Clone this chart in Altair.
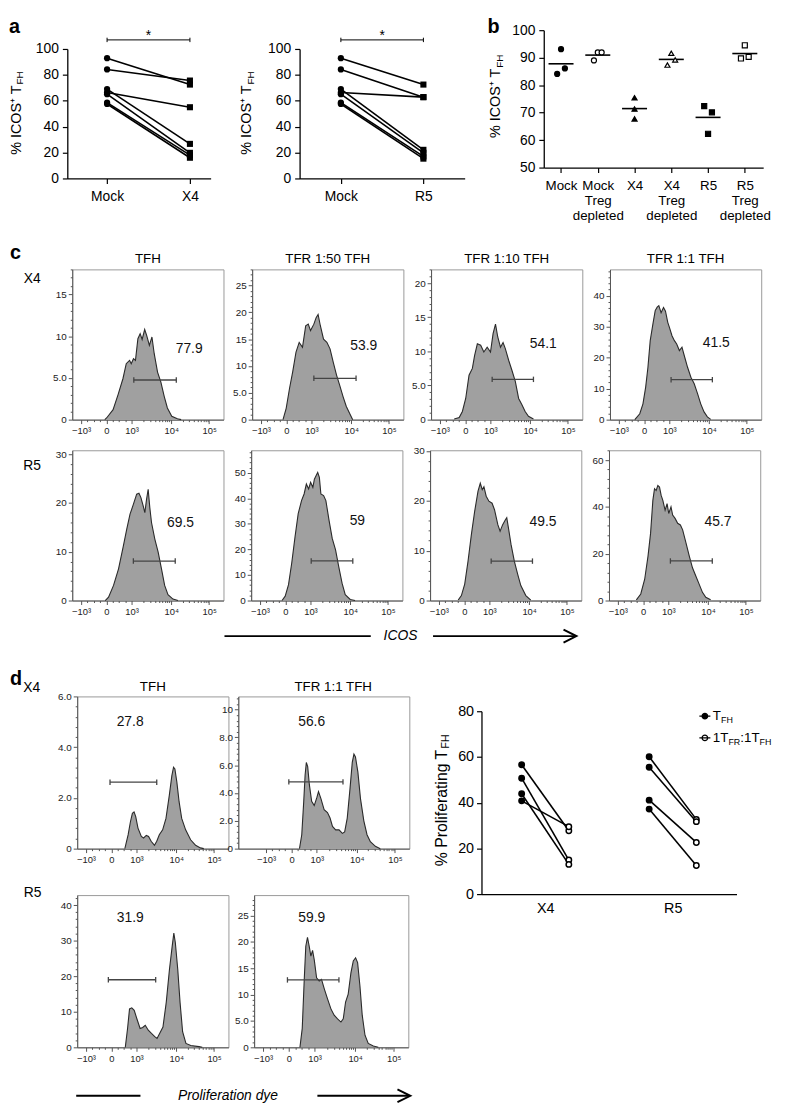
import altair as alt
import numpy as np
import pandas as pd

FONT = "Liberation Sans"
ONE = pd.DataFrame({"k": [0]})

# ================= panel a =================
A_LEFT_CATS = ["Mock", "X4"]
A_LEFT_MOCK = [92.9, 84.2, 66.4, 69.0, 65.1, 58.5, 57.5]
A_LEFT_X4 = [72.5, 75.6, 55.0, 26.7, 19.8, 18.0, 16.0]
A_RIGHT_CATS = ["Mock", "R5"]
A_RIGHT_MOCK = [92.9, 84.2, 66.4, 69.0, 65.1, 58.5, 57.5]
A_RIGHT_R5 = [72.5, 62.8, 62.8, 22.1, 19.8, 17.0, 15.3]
A_SIG_TEXT = "*"
A_SIG_LEVEL = 107

# ================= panel b =================
B_GROUPS = ["Mock", "Mock Treg depleted", "X4", "X4 Treg depleted", "R5", "R5 Treg depleted"]
B_REP1 = [84.1, 89.0, 75.4, 87.3, 72.4, 89.7]
B_REP2 = [93.1, 91.9, 71.3, 91.6, 62.3, 94.5]
B_REP3 = [86.1, 91.9, 67.7, 89.2, 70.1, 90.3]
B_SHAPES = ["circle", "circle", "triangle-up", "triangle-up", "square", "square"]
B_FILLS = ["black", "white", "black", "white", "black", "white"]

# ================= histograms (x in display units of the biexponential axis) =================
HIST_X_TICKS = [5.8, 22.6, 39.2, 65.5, 90.5]
HIST_X_LABELS = ["−10³", "0", "10³", "10⁴", "10⁵"]

C_COLUMNS = ["TFH", "TFR 1:50 TFH", "TFR 1:10 TFH", "TFR 1:1 TFH"]

C_X4_TFH_U = [21.5, 22.7, 27.0, 30.3, 33.5, 35.7, 37.9, 39.0, 40.5, 41.8, 43.4, 44.9, 46.2, 47.9, 49.2, 51.0, 52.7, 54.2, 56.4, 58.6, 60.8, 62.9, 65.8, 69.5, 72.0]
C_X4_TFH_Y = [0, 0.2, 1.2, 3.0, 4.9, 6.7, 7.1, 6.7, 7.3, 7.1, 9.7, 10.3, 9.6, 10.8, 10.1, 8.9, 9.9, 7.9, 5.7, 4.5, 2.8, 1.4, 0.4, 0.1, 0]
C_X4_TFH_GATE = [40.7, 68.8, 4.75]
C_X4_TFH_PCT = ["77.9", 77.3, 8.5]

C_X4_T50_U = [20.4, 22.5, 24.7, 26.8, 29.0, 31.1, 33.3, 35.4, 37.1, 38.6, 40.8, 42.3, 43.6, 45.1, 47.2, 49.4, 51.5, 53.6, 55.8, 57.9, 60.1, 62.2, 64.4, 66.5]
C_X4_T50_Y = [0, 2.1, 5.8, 8.9, 12.6, 14.4, 13.5, 17.5, 17.8, 16.6, 17.8, 19.0, 19.6, 17.5, 15.0, 14.4, 13.2, 10.7, 8.3, 6.4, 4.3, 2.5, 1.2, 0]
C_X4_T50_GATE = [40.8, 68.7, 7.7]
C_X4_T50_PCT = ["53.9", 73.8, 13.8]

C_X4_T10_U = [15.3, 18.6, 20.7, 22.9, 25.1, 27.3, 28.8, 30.6, 32.8, 34.9, 37.1, 39.3, 41.0, 42.6, 44.1, 45.9, 47.6, 49.1, 51.3, 53.5, 55.7, 57.9, 60.0, 62.2, 64.4, 67.7]
C_X4_T10_Y = [0.1, 0.3, 1.2, 3.1, 6.5, 7.5, 9.4, 11.1, 10.9, 9.9, 10.6, 9.9, 12.6, 14.0, 12.1, 10.6, 11.3, 10.4, 8.7, 7.2, 5.6, 3.1, 2.2, 1.2, 0.5, 0.1]
C_X4_T10_GATE = [40.4, 67.7, 5.9]
C_X4_T10_PCT = ["54.1", 74.2, 11.0]

C_X4_T1_U = [16.4, 19.7, 21.8, 23.6, 25.1, 26.6, 28.4, 29.9, 31.2, 32.3, 33.8, 35.4, 36.7, 38.2, 39.3, 41.0, 42.6, 44.1, 45.9, 47.6, 49.1, 51.3, 53.5, 55.7, 57.9, 60.0, 62.2, 64.4, 66.6]
C_X4_T1_Y = [0, 1.9, 5.1, 10.5, 16.9, 25.5, 30.9, 35.2, 36.3, 36.8, 34.5, 36.2, 35.0, 31.4, 29.8, 27.1, 25.5, 24.4, 22.3, 23.4, 20.7, 16.9, 13.7, 11.6, 8.4, 5.1, 2.5, 0.9, 0.1]
C_X4_T1_GATE = [40.4, 67.7, 12.9]
C_X4_T1_PCT = ["41.5", 70.3, 24.8]

C_R5_TFH_U = [21.8, 24.0, 27.3, 30.6, 33.8, 36.0, 38.2, 40.4, 42.6, 44.1, 45.4, 46.9, 48.0, 49.1, 50.2, 51.3, 52.4, 54.6, 56.8, 59.0, 61.1, 63.3, 66.6, 69.9]
C_R5_TFH_Y = [0, 0.7, 3.1, 6.5, 11.2, 14.6, 17.7, 19.7, 21.8, 22.0, 21.1, 19.4, 18.0, 20.7, 22.8, 19.0, 16.0, 12.6, 9.9, 6.5, 3.1, 1.2, 0.3, 0]
C_R5_TFH_GATE = [40.4, 68.1, 8.1]
C_R5_TFH_PCT = ["69.5", 71.6, 15.8]

C_R5_T50_U = [20.4, 22.5, 24.7, 26.8, 29.0, 31.1, 33.3, 35.0, 36.5, 38.0, 39.3, 40.8, 41.8, 42.9, 44.0, 45.1, 46.1, 47.9, 49.4, 51.5, 53.6, 55.8, 57.9, 60.1, 62.2, 65.5, 68.7]
C_R5_T50_Y = [0, 1.7, 6.2, 14.6, 24.9, 34.0, 39.1, 41.7, 45.6, 43.7, 46.3, 44.3, 47.5, 48.8, 50.1, 48.2, 41.7, 41.1, 39.1, 31.4, 24.3, 19.8, 13.3, 6.8, 2.3, 0.4, 0]
C_R5_T50_GATE = [39.7, 67.2, 15.5]
C_R5_T50_PCT = ["59", 70.2, 31.0]

C_R5_T10_U = [18.6, 20.7, 22.9, 25.1, 27.3, 29.5, 31.7, 33.2, 34.5, 35.6, 37.1, 38.9, 41.0, 42.6, 44.8, 46.3, 48.0, 49.8, 50.7, 52.0, 53.5, 55.7, 57.9, 60.0, 63.3, 66.6]
C_R5_T10_Y = [0.1, 1.0, 3.3, 7.9, 13.2, 17.9, 21.9, 23.5, 22.2, 22.8, 20.9, 19.9, 19.5, 18.2, 15.2, 13.9, 15.2, 16.2, 16.6, 14.2, 11.3, 7.9, 5.3, 3.0, 1.0, 0.1]
C_R5_T10_GATE = [40.4, 67.7, 7.9]
C_R5_T10_PCT = ["49.5", 74.7, 15.8]

C_R5_T1_U = [18.1, 21.0, 23.6, 25.8, 27.5, 29.0, 30.1, 31.2, 32.3, 33.4, 34.5, 35.6, 37.1, 38.4, 39.5, 41.0, 42.1, 43.7, 45.4, 47.2, 48.7, 50.9, 53.1, 55.2, 57.4, 59.6, 61.8, 64.0, 67.2]
C_R5_T1_Y = [0.3, 2.8, 9.1, 19.0, 28.8, 42.8, 47.8, 47.0, 49.2, 48.5, 44.9, 42.8, 38.6, 41.4, 37.2, 40.0, 36.5, 35.1, 33.0, 32.3, 30.2, 24.6, 19.0, 14.0, 10.5, 7.0, 3.5, 1.4, 0.3]
C_R5_T1_GATE = [40.6, 68.3, 16.9]
C_R5_T1_PCT = ["45.7", 72.1, 33.4]

# ================= panel d histograms =================
D_COLUMNS = ["TFH", "TFR 1:1 TFH"]

D_X4_TFH_U = [31.5, 33.7, 35.2, 36.5, 37.6, 38.7, 40.2, 42.4, 43.9, 45.7, 47.2, 48.9, 51.1, 52.6, 54.3, 56.5, 58.7, 60.9, 62.6, 63.7, 64.6, 65.9, 67.4, 69.1, 71.7, 75.0, 78.3, 81.5, 83.7]
D_X4_TFH_Y = [0.0, 0.55, 1.06, 1.39, 1.45, 1.26, 0.81, 0.48, 0.42, 0.52, 0.48, 0.29, 0.13, 0.29, 0.55, 0.74, 1.19, 2.10, 2.88, 3.21, 3.14, 2.62, 1.84, 1.19, 0.74, 0.35, 0.13, 0.03, 0.0]
D_X4_TFH_GATE = [21.7, 52.6, 2.62]
D_X4_TFH_PCT = ["27.8", 35.0, 5.0]

D_X4_T1_U = [27.8, 29.3, 30.6, 31.5, 32.3, 33.2, 34.3, 35.8, 37.5, 39.3, 40.3, 41.9, 44.0, 46.2, 47.9, 49.5, 51.6, 53.8, 56.0, 57.5, 59.2, 61.0, 62.5, 63.6, 64.6, 66.2, 67.9, 70.1, 72.2, 74.4, 77.7, 80.9]
D_X4_T1_Y = [0, 1.0, 3.4, 5.3, 6.2, 5.9, 4.6, 3.4, 3.1, 3.7, 4.1, 3.6, 2.8, 2.6, 2.2, 1.6, 1.35, 1.35, 1.1, 1.2, 2.2, 4.3, 6.2, 6.8, 6.6, 5.5, 3.6, 2.0, 1.0, 0.5, 0.17, 0]
D_X4_T1_GATE = [20.8, 56.4, 4.8]
D_X4_T1_PCT = ["56.6", 35.8, 9.1]

D_R5_TFH_U = [31.8, 33.3, 34.6, 36.1, 37.7, 39.4, 41.6, 43.3, 45.0, 47.0, 49.1, 51.3, 52.8, 54.5, 56.7, 58.9, 61.0, 62.8, 63.9, 64.9, 66.5, 68.0, 69.7, 71.9, 75.1, 80.5, 82.7]
D_R5_TFH_Y = [0, 5.3, 10.8, 11.1, 10.4, 8.1, 5.3, 5.6, 6.2, 4.8, 3.9, 3.0, 2.5, 3.9, 5.7, 12.7, 21.9, 28.4, 32.1, 29.4, 21.9, 12.7, 4.4, 1.1, 0.5, 0.2, 0]
D_R5_TFH_GATE = [20.6, 51.9, 19.0]
D_R5_TFH_PCT = ["31.9", 35.1, 36.3]

D_R5_T1_U = [29.7, 31.2, 32.5, 33.5, 34.6, 35.7, 36.8, 37.9, 39.0, 40.5, 42.2, 43.7, 45.5, 47.6, 49.8, 51.9, 54.1, 56.3, 57.8, 59.3, 61.0, 62.8, 64.3, 65.8, 67.1, 68.6, 70.1, 71.9, 74.0, 77.3, 80.5]
D_R5_T1_Y = [0, 3.6, 12.9, 19.2, 20.9, 19.2, 17.3, 18.4, 16.6, 13.2, 12.6, 12.9, 11.1, 9.2, 7.3, 6.1, 5.4, 4.8, 5.4, 8.6, 10.1, 14.2, 16.4, 17.0, 16.1, 11.7, 6.1, 2.3, 0.75, 0.25, 0]
D_R5_T1_GATE = [21.6, 55.0, 12.8]
D_R5_T1_PCT = ["59.9", 37.4, 24.5]

# ================= panel d summary =================
D_GROUPS = ["X4", "R5"]
D_X4_TFH_PROLIF = [56.6, 50.7, 43.9, 40.8]
D_X4_TFR_PROLIF = [27.7, 14.9, 13.0, 29.5]
D_R5_TFH_PROLIF = [60.1, 55.5, 41.1, 37.2]
D_R5_TFR_PROLIF = [32.7, 31.7, 22.6, 12.5]


# ---------------------------------------------------------------- helpers
def pin(x0, x1, y0, y1):
    return alt.Chart(ONE).mark_rect(opacity=0).encode(
        x=alt.value(x0), x2=alt.value(x1), y=alt.value(y0), y2=alt.value(y1))


def spacer():
    return pin(0, 1, 0, 1).properties(width=1, height=1, view=alt.ViewBackground(stroke=None))


def note(text, x, y, size=14, weight="normal", align="center", baseline="middle",
         angle=0, style="normal", color="black"):
    return alt.Chart(ONE).mark_text(
        text=text, fontSize=size, fontWeight=weight, align=align, baseline=baseline,
        angle=angle, fontStyle=style, font=FONT, color=color
    ).encode(x=alt.value(x), y=alt.value(y))


def ytitle(main, sub, x, ytop, size, subsize, shift):
    return [note(main, x, ytop, size=size, align="right", angle=270),
            note(sub, x + shift, ytop - 1, size=subsize, align="left", angle=270)]


def main_axis(**kw):
    base = dict(title=None, grid=False, domainColor="black", domainWidth=1.3,
                tickColor="black", tickWidth=1.2, tickSize=5, labelFontSize=14,
                labelColor="black", labelPadding=4, labelFont=FONT,
                labelFlush=False, labelOverlap=False)
    base.update(kw)
    return alt.Axis(**base)


def x_minor():
    out = []
    for f in (0.25, 0.5, 0.75):
        out.append(round(HIST_X_TICKS[0] + (HIST_X_TICKS[1] - HIST_X_TICKS[0]) * f, 2))
        out.append(round(HIST_X_TICKS[1] + (HIST_X_TICKS[2] - HIST_X_TICKS[1]) * f, 2))
    for k in range(2, 10):
        out.append(round(float(HIST_X_TICKS[2] + (HIST_X_TICKS[3] - HIST_X_TICKS[2]) * np.log10(k)), 2))
        out.append(round(float(HIST_X_TICKS[3] + (HIST_X_TICKS[4] - HIST_X_TICKS[3]) * np.log10(k)), 2))
    return out


def histogram(u, y, ymax, major, minor, gate, pct, width, height, xdom=(0, 100), extras=()):
    df = pd.DataFrame({"u": u, "count": y})
    xs = alt.Scale(domain=list(xdom), nice=False, zero=False)
    ys = alt.Scale(domain=[0, ymax], nice=False, zero=False)
    majors = "[" + ",".join(str(v) for v in HIST_X_TICKS) + "]"
    labels = "[" + ",".join("'" + t + "'" for t in HIST_X_LABELS) + "]"
    xtest = f"indexof({majors}, datum.value) >= 0"
    xa = alt.Axis(values=sorted(HIST_X_TICKS + x_minor()), title=None, grid=False,
                  labelExpr=f"{xtest} ? {labels}[indexof({majors}, datum.value)] : ''",
                  tickSize={"condition": {"test": xtest, "value": 4}, "value": 2},
                  labelFontSize=9.5, labelColor="#222", labelFont=FONT, labelPadding=2,
                  domainColor="#555", tickColor="#555", labelOverlap=False, labelFlush=False)
    n = int(round(ymax / minor + 1e-6))
    yvals = [round(k * minor, 4) for k in range(n + 1) if k * minor <= ymax + 1e-9]
    ytest = f"abs(datum.value / {major} - round(datum.value / {major})) < 0.001"
    ya = alt.Axis(values=yvals, title=None, grid=False,
                  labelExpr=f"{ytest} ? (datum.value == 0 ? '0' : (datum.value < 10 ? format(datum.value, '.1f') : format(datum.value, 'd'))) : ''",
                  tickSize={"condition": {"test": ytest, "value": 4}, "value": 2},
                  labelFontSize=10, labelColor="#222", labelFont=FONT, labelPadding=2,
                  domainColor="#555", tickColor="#555", labelOverlap=False, labelFlush=False)
    X = lambda f: alt.X(f, type="quantitative", scale=xs, axis=xa)
    Y = lambda f: alt.Y(f, type="quantitative", scale=ys, axis=ya)
    area = alt.Chart(df).mark_area(
        color="#a0a0a0", opacity=1, interpolate="linear",
        line={"color": "#2a2a2a", "strokeWidth": 1.1}
    ).encode(x=X("u"), y=Y("count"))
    gdf = pd.DataFrame({"lo": [gate[0]], "hi": [gate[1]], "lvl": [gate[2]]})
    bar = alt.Chart(gdf).mark_rule(color="#444", strokeWidth=1.3).encode(
        x=X("lo"), x2="hi", y=Y("lvl"))
    caps = alt.Chart(gdf).transform_fold(["lo", "hi"], as_=["end", "ue"]).mark_point(
        shape="M0,-1L0,1", size=30, color="#444", strokeWidth=1.3, filled=False, opacity=1
    ).encode(x=X("ue"), y=Y("lvl"))
    pdf = pd.DataFrame({"lab": [pct[0]], "lu": [pct[1]], "ly": [pct[2]]})
    txt = alt.Chart(pdf).mark_text(fontSize=14, font=FONT, color="#111", baseline="middle").encode(
        x=X("lu"), y=Y("ly"), text="lab:N")
    return alt.layer(area, bar, caps, txt, *extras).properties(
        width=width, height=height, view=alt.ViewBackground(stroke="#999", strokeWidth=1))


def paired(cats, before, after, xdom, width, height, extras):
    rows = []
    for i, (b0, a0) in enumerate(zip(before, after)):
        rows.append({"donor": i, "pos": 0, "value": b0})
        rows.append({"donor": i, "pos": 1, "value": a0})
    df = pd.DataFrame(rows)
    xs = alt.Scale(domain=xdom, nice=False, zero=False)
    ys = alt.Scale(domain=[0, 100], nice=False)
    xa = main_axis(values=[0, 1], labelPadding=6,
                   labelExpr=f"datum.value == 0 ? '{cats[0]}' : '{cats[1]}'")
    ya = main_axis(values=[0, 20, 40, 60, 80, 100])
    X = lambda f: alt.X(f, type="quantitative", scale=xs, axis=xa)
    Y = lambda f: alt.Y(f, type="quantitative", scale=ys, axis=ya)
    base = alt.Chart(df)
    lines = base.mark_line(color="black", strokeWidth=1.6).encode(
        x=X("pos"), y=Y("value"), detail="donor:N")
    pre = base.transform_filter("datum.pos == 0").mark_point(
        shape="circle", filled=True, opacity=1, size=40, color="black").encode(x=X("pos"), y=Y("value"))
    post = base.transform_filter("datum.pos == 1").mark_point(
        shape="square", filled=True, opacity=1, size=38, color="black").encode(x=X("pos"), y=Y("value"))
    sig = pd.DataFrame({"x0": [0], "x1": [1], "mid": [0.5], "lvl": [A_SIG_LEVEL], "lab": [A_SIG_TEXT]})
    bar = alt.Chart(sig).mark_rule(color="black", strokeWidth=1).encode(x=X("x0"), x2="x1", y=Y("lvl"))
    caps = alt.Chart(sig).transform_fold(["x0", "x1"], as_=["end", "xe"]).mark_point(
        shape="M0,-1L0,1", size=20, color="black", strokeWidth=1, filled=False, opacity=1
    ).encode(x=X("xe"), y=Y("lvl"))
    star = alt.Chart(sig).mark_text(fontSize=14, font=FONT, baseline="alphabetic", color="black").encode(
        x=X("mid"), y=Y("lvl"), text="lab:N")
    return alt.layer(lines, pre, post, bar, caps, star, *extras).properties(
        width=width, height=height, view=alt.ViewBackground(stroke=None))


# ---------------------------------------------------------------- row a / b
aL = paired(A_LEFT_CATS, A_LEFT_MOCK, A_LEFT_X4, [-0.48, 1.25], 145, 131,
            ytitle("% ICOS⁺ T", "FH", -51, 37, 14.5, 10, 3.5)
            + [note("a", -59, -16, size=20, weight="bold", align="left", baseline="alphabetic"),
               pin(-59, 170, -35, 191)])
aR = paired(A_RIGHT_CATS, A_RIGHT_MOCK, A_RIGHT_R5, [-0.5, 1.5], 167, 131,
            ytitle("% ICOS⁺ T", "FH", -53, 37, 14.5, 10, 3.5)
            + [pin(-65, 185, -35, 191)])

b_rows = []
for gi, g in enumerate(B_GROUPS):
    for ri, v in enumerate([B_REP1[gi], B_REP2[gi], B_REP3[gi]]):
        b_rows.append({"group": g, "gi": gi, "rep": ri, "value": v})
dfb = pd.DataFrame(b_rows)
b_xs = alt.Scale(domain=[-0.47, 5.5], nice=False, zero=False)
b_ys = alt.Scale(domain=[50, 100], nice=False, zero=False)
b_arr = "[" + ",".join("'" + g + "'" for g in B_GROUPS) + "]"
b_xa = main_axis(values=list(range(6)), labelExpr=f"split({b_arr}[datum.value], ' ')",
                 labelLineHeight=15.5, labelPadding=6, labelFontSize=13.5)
b_ya = main_axis(values=[50, 60, 70, 80, 90, 100])
BX = lambda f: alt.X(f, type="quantitative", scale=b_xs, axis=b_xa)
BY = lambda f: alt.Y(f, type="quantitative", scale=b_ys, axis=b_ya)
b_layers = [alt.Chart(dfb).transform_aggregate(
    mean="mean(value)", groupby=["gi"]
).transform_calculate(x0="datum.gi - 0.34", x1="datum.gi + 0.34").mark_rule(
    color="black", strokeWidth=1.6).encode(x=BX("x0"), x2="x1", y=BY("mean"))]
for gi in range(len(B_GROUPS)):
    b_layers.append(
        alt.Chart(dfb).transform_filter(f"datum.gi == {gi}").transform_calculate(
            xp="datum.gi + (datum.rep - 1) * (datum.group == 'X4' ? 0 : 0.105)"
        ).mark_point(shape=B_SHAPES[gi], filled=True, fill=B_FILLS[gi], stroke="black",
                     strokeWidth=1.2, size=26, opacity=1).encode(x=BX("xp"), y=BY("value")))
b_chart = alt.layer(
    *b_layers,
    *ytitle("% ICOS⁺ T", "FH", -48, 39, 14.5, 10, 3.5),
    note("b", -57, 3, size=20, weight="bold", align="left", baseline="alphabetic"),
    pin(-62, 230, -16, 210)
).properties(width=222, height=139, view=alt.ViewBackground(stroke=None))

row_a = alt.hconcat(
    spacer(),
    alt.vconcat(spacer(), aL, spacing=18, bounds="flush"),
    alt.vconcat(spacer(), aR, spacing=18, bounds="flush"),
    b_chart, spacing=0)

# ---------------------------------------------------------------- panel c
CW, CH = 153, 152
c1 = histogram(C_X4_TFH_U, C_X4_TFH_Y, 18, 5, 1, C_X4_TFH_GATE, C_X4_TFH_PCT, CW, CH, extras=[
    note(C_COLUMNS[0], CW / 2, -6, size=13.5, baseline="alphabetic"),
    note("c", -63, -11, size=20, weight="bold", align="left", baseline="alphabetic"),
    note("X4", -40.5, 10, size=14),
    pin(-63, 160, -31, 173)])
c2 = histogram(C_X4_T50_U, C_X4_T50_Y, 28, 5, 1, C_X4_T50_GATE, C_X4_T50_PCT, CW, CH, extras=[
    note(C_COLUMNS[1], CW / 2, -6, size=13.5, baseline="alphabetic"), pin(-19, 157, 0, 1)])
c3 = histogram(C_X4_T10_U, C_X4_T10_Y, 22, 5, 1, C_X4_T10_GATE, C_X4_T10_PCT, CW, CH, extras=[
    note(C_COLUMNS[2], CW / 2, -6, size=13.5, baseline="alphabetic"), pin(-22, 158, 0, 1)])
c4 = histogram(C_X4_T1_U, C_X4_T1_Y, 48.5, 10, 2, C_X4_T1_GATE, C_X4_T1_PCT, CW, CH, extras=[
    note(C_COLUMNS[3], CW / 2, -6, size=13.5, baseline="alphabetic"), pin(-21, 171, 0, 1)])
row_c1 = alt.hconcat(spacer(), c1, c2, c3, c4, spacing=0)

c5 = histogram(C_R5_TFH_U, C_R5_TFH_Y, 30.8, 10, 2, C_R5_TFH_GATE, C_R5_TFH_PCT, CW, CH, extras=[
    note("R5", -40.5, 16, size=14), pin(-63, 160, -8, 172)])
c6 = histogram(C_R5_T50_U, C_R5_T50_Y, 58.8, 10, 2, C_R5_T50_GATE, C_R5_T50_PCT, CW, CH,
               extras=[pin(-19, 157, 0, 1)])
c7 = histogram(C_R5_T10_U, C_R5_T10_Y, 30.1, 10, 2, C_R5_T10_GATE, C_R5_T10_PCT, CW, CH,
               extras=[pin(-22, 158, 0, 1)])
c8 = histogram(C_R5_T1_U, C_R5_T1_Y, 64.2, 20, 4, C_R5_T1_GATE, C_R5_T1_PCT, CW, CH,
               extras=[pin(-21, 171, 0, 1)])
row_c2 = alt.hconcat(spacer(), c5, c6, c7, c8, spacing=0)

icos = alt.layer(
    alt.Chart(ONE).mark_rule(color="black", strokeWidth=2).encode(
        x=alt.value(219), x2=alt.value(367), y=alt.value(5)),
    note("ICOS", 380, 5, size=14, align="left", style="italic"),
    alt.Chart(ONE).mark_rule(color="black", strokeWidth=2).encode(
        x=alt.value(430), x2=alt.value(573), y=alt.value(5)),
    alt.Chart(ONE).mark_point(shape="M-2,-1L0,0L-2,1", size=169, filled=False, color="black",
                              strokeWidth=2, opacity=1).encode(x=alt.value(575), y=alt.value(5)),
    pin(0, 772, -10, 20)
).properties(width=1, height=1, view=alt.ViewBackground(stroke=None))

# ---------------------------------------------------------------- panel d
DH = 154
d1 = histogram(D_X4_TFH_U, D_X4_TFH_Y, 6.0, 2, 0.4, D_X4_TFH_GATE, D_X4_TFH_PCT, 153, DH, extras=[
    note(D_COLUMNS[0], 76.5, -5, size=13.5, baseline="alphabetic"),
    note("d", -68, -12, size=20, weight="bold", align="left", baseline="alphabetic"),
    note("X4", -46, -8, size=14),
    pin(-68, 0, -45, 175)])
d2 = histogram(D_X4_T1_U, D_X4_T1_Y, 10.95, 2, 0.4, D_X4_T1_GATE, D_X4_T1_PCT, 173, DH,
               xdom=(-12.4, 100), extras=[
    note(D_COLUMNS[1], 96, -5, size=13.5, baseline="alphabetic"),
    pin(0, 185, 0, 1)])
row_d1 = alt.hconcat(d1, d2, spacing=10, bounds="flush")
d3 = histogram(D_R5_TFH_U, D_R5_TFH_Y, 42.8, 10, 2, D_R5_TFH_GATE, D_R5_TFH_PCT, 153, DH, extras=[
    note("R5", -45, -2, size=14),
    pin(-68, 0, -24, 174)])
d4 = histogram(D_R5_T1_U, D_R5_T1_Y, 28.9, 5, 1, D_R5_T1_GATE, D_R5_T1_PCT, 156, DH, extras=[
    pin(0, 169, 0, 1)])
row_d2 = alt.hconcat(d3, d4, spacing=26, bounds="flush")
d_left = alt.vconcat(row_d1, row_d2, spacing=0)

d_rows = []
for gi, (g, pre, post) in enumerate([("X4", D_X4_TFH_PROLIF, D_X4_TFR_PROLIF),
                                       ("R5", D_R5_TFH_PROLIF, D_R5_TFR_PROLIF)]):
    for di, (p, q) in enumerate(zip(pre, post)):
        d_rows.append({"pair": f"{g}{di}", "gi": gi, "ci": 0, "value": p})
        d_rows.append({"pair": f"{g}{di}", "gi": gi, "ci": 1, "value": q})
dfd = pd.DataFrame(d_rows)
d_xs = alt.Scale(domain=[0, 4], nice=False, zero=False)
d_ys = alt.Scale(domain=[0, 80], nice=False)
d_arr = "[" + ",".join("'" + g + "'" for g in D_GROUPS) + "]"
d_xa = main_axis(values=[1, 3], ticks=False, labelPadding=8, labelFontSize=14.5,
                 labelExpr=f"{d_arr}[(datum.value - 1) / 2]")
d_ya = main_axis(values=[0, 20, 40, 60, 80], labelFontSize=14.5, labelPadding=3)
DX = lambda f: alt.X(f, type="quantitative", scale=d_xs, axis=d_xa)
DY = lambda f: alt.Y(f, type="quantitative", scale=d_ys, axis=d_ya)
d_base = alt.Chart(dfd).transform_calculate(xp="2 * datum.gi + 1 + (datum.ci == 0 ? -0.37 : 0.37)")
d_lines = d_base.mark_line(color="black", strokeWidth=1.6).encode(
    x=DX("xp"), y=DY("value"), detail="pair:N")
d_pre = d_base.transform_filter("datum.ci == 0").mark_point(
    shape="circle", filled=True, fill="black", stroke="black", size=30, strokeWidth=1.5, opacity=1
).encode(x=DX("xp"), y=DY("value"))
d_post = d_base.transform_filter("datum.ci == 1").mark_point(
    shape="circle", filled=True, fill="white", stroke="black", size=30, strokeWidth=1.5, opacity=1
).encode(x=DX("xp"), y=DY("value"))
LEG = "M-2,0L2,0M1,0A1,1,0,1,1,-1,0A1,1,0,1,1,1,0"
leg1 = alt.Chart(ONE).mark_point(shape=LEG, size=31, filled=True, fill="black", stroke="black",
                                 strokeWidth=1.3, opacity=1).encode(x=alt.value(226), y=alt.value(5))
leg2 = alt.Chart(ONE).mark_point(shape=LEG, size=31, filled=True, fill="white", stroke="black",
                                 strokeWidth=1.3, opacity=1).encode(x=alt.value(226), y=alt.value(27))
d_right = alt.layer(
    d_lines, d_pre, d_post, leg1, leg2,
    note("T", 234, 5, size=13.5, align="left"),
    note("FH", 242.3, 9, size=9, align="left"),
    note("1T", 234, 27, size=13.5, align="left"),
    note("FR", 249.8, 31, size=9, align="left"),
    note(":1T", 261.8, 27, size=13.5, align="left"),
    note("FH", 281.3, 31, size=9, align="left"),
    *ytitle("% Proliferating T", "FH", -40, 39, 16, 11, 4),
    pin(-60, 295, -60, 358)
).properties(width=258, height=185, view=alt.ViewBackground(stroke=None))

row_d = alt.hconcat(
    spacer(), d_left,
    alt.vconcat(spacer(), d_right, spacing=14, bounds="flush"),
    spacing=0)

prolif = alt.layer(
    alt.Chart(ONE).mark_rule(color="black", strokeWidth=2).encode(
        x=alt.value(69), x2=alt.value(134), y=alt.value(0)),
    note("Proliferation dye", 172, 0, size=14, align="left", style="italic"),
    alt.Chart(ONE).mark_rule(color="black", strokeWidth=2).encode(
        x=alt.value(313), x2=alt.value(405), y=alt.value(0)),
    alt.Chart(ONE).mark_point(shape="M-2,-1L0,0L-2,1", size=169, filled=False, color="black",
                              strokeWidth=2, opacity=1).encode(x=alt.value(407), y=alt.value(0)),
    pin(0, 772, -28, 7)
).properties(width=1, height=1, view=alt.ViewBackground(stroke=None))

chart = alt.vconcat(row_a, row_c1, row_c2, icos, row_d, prolif, spacing=0).properties(
    padding=0
).configure(font=FONT).configure_view(stroke=None)

chart.save("out.html", embed_options={"renderer": "svg", "actions": False})
